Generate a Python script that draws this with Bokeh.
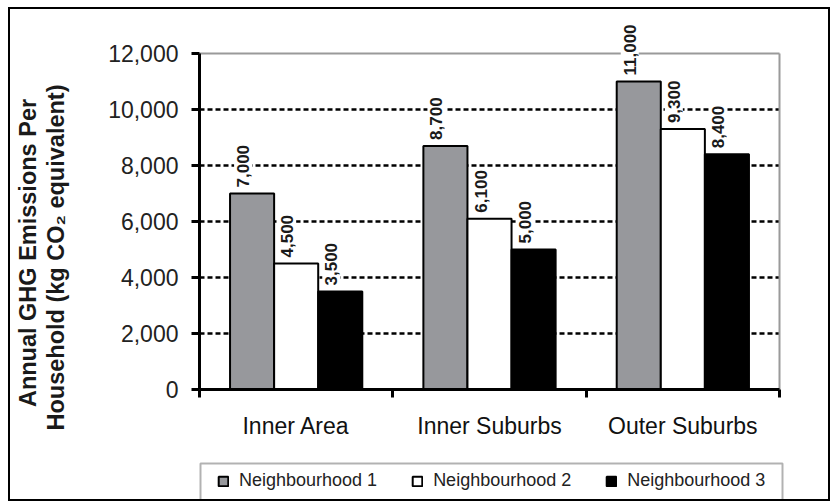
import math
from bokeh.plotting import figure
from bokeh.models import (FixedTicker, NumeralTickFormatter, Legend, LegendItem,
                          Label, ColumnDataSource, Range1d, BoxAnnotation)
from bokeh.embed import file_html
from bokeh.resources import INLINE
from bokeh.core.properties import value

# ---- data ----
categories = ["Inner Area", "Inner Suburbs", "Outer Suburbs"]
series_names = ["Neighbourhood 1", "Neighbourhood 2", "Neighbourhood 3"]
neighbourhood_1 = [7000, 8700, 11000]
neighbourhood_2 = [4500, 6100, 9300]
neighbourhood_3 = [3500, 5000, 8400]
y_ticks = [0, 2000, 4000, 6000, 8000, 10000, 12000]
grid_ticks = [2000, 4000, 6000, 8000, 10000]

series_values = [neighbourhood_1, neighbourhood_2, neighbourhood_3]
fill_colors = ["#97989c", "#ffffff", "#000000"]
FONT = "Liberation Sans"

# ---- layout (canvas pixels) ----
CW, CH = 822, 494          # canvas size
PX0, PX1 = 189, 769        # screen x of category axis start / end
PY0, PYTOP = 380, 44       # screen y of value 0 / value 12000
n_cat = len(categories)
y_max = y_ticks[-1]
sx = (PX1 - PX0) / n_cat
sy = (PY0 - PYTOP) / y_max
x_range = Range1d(-PX0 / sx, n_cat + (CW - PX1) / sx)
y_range = Range1d(-(CH - PY0) / sy, PY0 / sy)

p = figure(width=CW, height=CH, output_backend="svg", toolbar_location=None,
           x_range=x_range, y_range=y_range,
           min_border_left=0, min_border_right=0, min_border_top=0,
           min_border_bottom=0)
p.styles = {"border": "2px solid black", "margin": "7px 0 0 8px"}
p.background_fill_color = "white"
p.border_fill_color = "white"
p.outline_line_color = None
p.xgrid.visible = False
p.ygrid.visible = False

# gridlines (plot area only)
p.segment(x0=[0] * len(grid_ticks), x1=[n_cat] * len(grid_ticks),
          y0=grid_ticks, y1=grid_ticks, line_color="black",
          line_width=2.5, line_dash="5 3")
# grey plot-area border (top and right)
p.segment(x0=[0, n_cat], x1=[n_cat, n_cat], y0=[y_max, 0], y1=[y_max, y_max],
          line_color="#9a9a9a", line_width=2)

bar_w = 0.228
offsets = [-bar_w, 0.0, bar_w]
renderers = []
sources = []
for vals, off, col in zip(series_values, offsets, fill_colors):
    src = ColumnDataSource(dict(
        x=[i + 0.5 + off for i in range(n_cat)],
        top=vals,
        label=[f"{v:,}" for v in vals],
    ))
    sources.append(src)
    r = p.vbar(x="x", top="top", width=bar_w, bottom=0, source=src,
               fill_color=col, line_color="black", line_width=2)
    renderers.append(r)

for src in sources:
    p.text(x="x", y="top", text="label", source=src, angle=math.pi / 2,
           text_align="left", text_baseline="middle", x_offset=-9, y_offset=-3,
           text_font=value(FONT), text_font_style="bold",
           text_font_size="17px", text_color="#1a1a1a",
           background_fill_color="white", padding=3)

# y axis
p.yaxis.fixed_location = 0
p.yaxis.bounds = (0, y_max)
p.yaxis.ticker = FixedTicker(ticks=y_ticks)
p.yaxis.formatter = NumeralTickFormatter(format="0,0")
p.yaxis.major_label_text_font = FONT
p.yaxis.major_label_text_font_size = "23px"
p.yaxis.major_label_text_color = "#222222"
p.yaxis.axis_line_width = 3
p.yaxis.axis_line_color = "black"
p.yaxis.major_tick_line_width = 3
p.yaxis.major_tick_out = 8
p.yaxis.major_tick_in = 0
p.yaxis.minor_tick_line_color = None
p.yaxis.major_label_standoff = 13

# x axis: labels at category centres, ticks at boundaries
p.xaxis.fixed_location = 0
p.xaxis.bounds = (0, n_cat)
p.xaxis.ticker = FixedTicker(ticks=[i + 0.5 for i in range(n_cat)],
                             minor_ticks=list(range(n_cat + 1)))
p.xaxis.major_label_overrides = {i + 0.5: c for i, c in enumerate(categories)}
p.xaxis.major_label_text_font = FONT
p.xaxis.major_label_text_font_size = "23px"
p.xaxis.major_label_text_color = "#111111"
p.xaxis.major_tick_out = 0
p.xaxis.major_tick_in = 0
p.xaxis.minor_tick_out = 8
p.xaxis.minor_tick_in = 0
p.xaxis.minor_tick_line_width = 3
p.xaxis.minor_tick_line_color = "black"
p.xaxis.axis_line_width = 3
p.xaxis.axis_line_color = "black"
p.xaxis.major_label_standoff = 15

# y axis title (two lines)
p.add_layout(Label(x=17.5, y=250.5, x_units="screen", y_units="screen",
                   text="Annual GHG Emissions Per", angle=math.pi / 2,
                   text_align="center", text_baseline="middle",
                   text_font=FONT, text_font_size="23.5px", text_font_style="bold",
                   text_color="#1a1a1a"))
p.add_layout(Label(x=45.5, y=246, x_units="screen", y_units="screen",
                   text="Household (kg CO\u2082 equivalent)", angle=math.pi / 2,
                   text_align="center", text_baseline="middle",
                   text_font=FONT, text_font_size="23.5px", text_font_style="bold",
                   text_color="#1a1a1a"))

legend = Legend(items=[LegendItem(label=n, renderers=[r]) for n, r in zip(series_names, renderers)],
                orientation="horizontal", location=(207, 12),
                border_line_color=None,
                background_fill_color="white", background_fill_alpha=1,
                padding=8, spacing=34, label_standoff=10,
                glyph_width=12, glyph_height=12,
                label_text_font=FONT, label_text_font_size="18px",
                label_text_color="#222222")
p.add_layout(legend, "center")
p.add_layout(BoxAnnotation(left=190, right=772, bottom=3, top=40,
                           left_units="screen", right_units="screen",
                           bottom_units="screen", top_units="screen",
                           fill_alpha=0, line_color="black", line_width=2))

open("out.html", "w").write(file_html(p, INLINE))
